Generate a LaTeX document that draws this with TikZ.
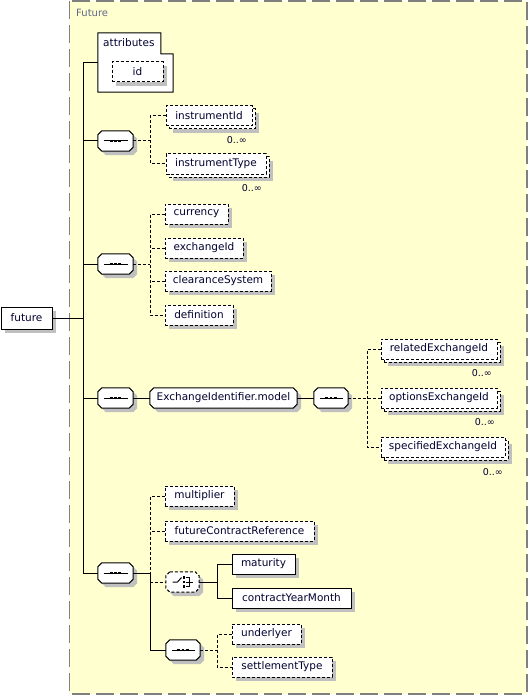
\documentclass[tikz,border=0pt]{standalone}
\usepackage{fontspec}
\newfontfamily\dvs{DejaVu Sans}
\definecolor{bgc}{RGB}{255,255,208}
\definecolor{framec}{RGB}{128,128,128}
\definecolor{shadowc}{RGB}{192,192,192}
\definecolor{txtc}{RGB}{0,0,48}
\definecolor{labc}{RGB}{96,104,136}
\begin{document}
\begin{tikzpicture}[x=1pt,y=-1pt,
  every node/.style={font=\dvs\fontsize{10.5}{12}\selectfont, text=txtc},
  conn/.style={line width=1pt, draw=black},
  optconn/.style={conn, dash pattern=on 3pt off 2pt},
  elem/.style={draw=black, fill=white, line width=1pt, inner sep=0pt, minimum height=20pt},
  optel/.style={elem, dash pattern=on 3pt off 2pt},
  shad/.style={preaction={fill=shadowc, draw=none, transform canvas={shift={(4pt,-4pt)}}}},
  multi/.style={preaction={fill=shadowc, draw=none, transform canvas={shift={(7pt,-7pt)}}},
                preaction={fill=white, draw=black, line width=1pt, dash pattern=on 3pt off 2pt, transform canvas={shift={(3pt,-3pt)}}}},
  hold/.style={inner sep=0pt, minimum height=20pt},
  octo/.style={insert path={([xshift=4pt]#1.north west) -- ([xshift=-4pt]#1.north east) -- ([yshift=-4pt]#1.north east) -- ([yshift=4pt]#1.south east) -- ([xshift=-4pt]#1.south east) -- ([xshift=4pt]#1.south west) -- ([yshift=4pt]#1.south west) -- ([yshift=-4pt]#1.north west) -- cycle}},
  mult/.style={font=\dvs\fontsize{9.5}{11}\selectfont, inner sep=0pt, anchor=east}
]
\useasboundingbox (0,0) rectangle (528,695);
% frame
\draw[framec, line width=1.5pt, dash pattern=on 18pt off 6pt, fill=bgc] (69.5,0.8) rectangle (526.8,693.9);
\node[anchor=west, inner sep=0pt, text=labc, font=\dvs\fontsize{10}{12}\selectfont] (title) at (76,13) {Future};

\coordinate (trunk) at (83,0);

% root
\node[elem, shad, minimum width=51pt, minimum height=22pt] (future) at (26.5,318) {future};

% attributes
\node[inner sep=0pt, minimum width=75pt, minimum height=59pt] (attr) at (135.5,62.5) {};
\draw[line width=1pt, fill=white] (attr.north west) -- ++(63,0) -- ++(0,21) -- (attr.east |- 0,54) -- (attr.south east) -- (attr.south west) -- cycle;
\node[anchor=west, inner sep=0pt] (attrlab) at (103,43) {attributes};
\node[optel, shad, minimum width=51pt] (id) at (137.5,72) {id};

% sequence 1
\node[hold, minimum width=35pt] (seq1) at (115.5,141) {};
\coordinate (j1) at (150,141);
\node[optel, multi, minimum width=86pt] (iid) at (209,116) {instrumentId};
\node[optel, multi, minimum width=100pt] (itype) at (216,164) {instrumentType};
\node[mult] (m1) at (247,140) {0..∞};
\node[mult] (m2) at (262,188) {0..∞};

% sequence 2
\node[hold, minimum width=35pt] (seq2) at (115.5,264) {};
\coordinate (j2) at (150,264);
\node[optel, shad, minimum width=63pt] (cur) at (196.5,214) {currency};
\node[optel, shad, minimum width=78pt] (exid) at (204,248) {exchangeId};
\node[optel, shad, minimum width=106pt] (clr) at (218,281) {clearanceSystem};
\node[optel, shad, minimum width=68pt] (def) at (199,315) {definition};

% sequence 3
\node[hold, minimum width=35pt] (seq3) at (115.5,398) {};
\node[hold, minimum width=147pt] (eim) at (223.5,398) {};
\node[hold, minimum width=34pt] (seq4) at (331,398) {};
\coordinate (j4) at (367,398);
\node[optel, multi, minimum width=116pt] (rel) at (439,349) {relatedExchangeId};
\node[optel, multi, minimum width=116pt] (opt) at (439,398) {optionsExchangeId};
\node[optel, multi, minimum width=124pt] (spec) at (443,447) {specifiedExchangeId};
\node[mult] (m3) at (492,373) {0..∞};
\node[mult] (m4) at (495,422) {0..∞};
\node[mult] (m5) at (503,472) {0..∞};

% sequence 5
\node[hold, minimum width=35pt] (seq5) at (115.5,573) {};
\coordinate (j5) at (150,573);
\node[optel, shad, minimum width=69pt] (mul) at (199.5,496) {multiplier};
\node[optel, shad, minimum width=149pt] (fcr) at (239.5,531) {futureContractReference};
\node[hold, minimum width=33pt] (choice) at (182.5,582) {};
\coordinate (j6) at (217,582);
\node[elem, shad, minimum width=63pt] (mat) at (263.5,564) {maturity};
\node[elem, shad, minimum width=119pt] (cym) at (291.5,598) {contractYearMonth};
\node[hold, minimum width=34pt] (seq6) at (183,650) {};
\coordinate (j7) at (217,650);
\node[optel, shad, minimum width=69pt] (und) at (266.5,634) {underlyer};
\node[optel, shad, minimum width=100pt] (stl) at (282,667) {settlementType};

% octagon compositors
\foreach \s in {seq1,seq2,seq3,seq4,seq5,seq6,eim,choice}{
  \fill[shadowc, transform canvas={shift={(4pt,-4pt)}}] [octo=\s];
}
\foreach \s in {seq1,seq2,seq3,seq4,seq5,seq6}{
  \draw[line width=1pt, fill=white] [octo=\s];
  \draw[line width=1pt] ([xshift=6pt]\s.west) -- ([xshift=-5pt]\s.east);
  \foreach \dx in {-4.3,0,4.3}{
    \fill ([xshift=\dx pt]\s.center) +(-1.4pt,-1.4pt) rectangle +(1.4pt,1.4pt);}
}
\draw[line width=1pt, fill=white] [octo=eim];
\node[inner sep=0pt] (eimlab) at (eim.center) {ExchangeIdentifier.model};
\draw[line width=1pt, fill=white, dash pattern=on 3pt off 2pt] [octo=choice];
% choice symbol
\draw[line width=1pt] ([xshift=-10pt]choice.center) -- ([xshift=-5pt]choice.center) -- ([xshift=-1pt,yshift=4.5pt]choice.center);
\foreach \dy in {-4.5,0,4.5}{
  \fill ([xshift=1.5pt,yshift=\dy pt]choice.center) +(-1.4pt,-1.4pt) rectangle +(1.4pt,1.4pt);}
\draw[line width=1pt] ([xshift=3pt,yshift=4.5pt]choice.center) -- ([xshift=7pt,yshift=4.5pt]choice.center)
      -- ([xshift=7pt,yshift=-4.5pt]choice.center) -- ([xshift=3pt,yshift=-4.5pt]choice.center);
\draw[line width=1pt] ([xshift=3pt]choice.center) -- ([xshift=10pt]choice.center);

% trunk connectors
\draw[conn] (attr.west -| trunk) -- (seq5.west -| trunk);
\draw[conn] (future.east) -- (future.east -| trunk);
\draw[conn] (attr.west -| trunk) -- (attr.west);
\foreach \s in {seq1,seq2,seq3,seq5}{\draw[conn] (\s.west -| trunk) -- (\s.west);}

% seq1 children
\draw[optconn] (seq1.east) -- (j1);
\draw[optconn] (iid.west) -- (iid.west -| j1) -- (itype.west -| j1) -- (itype.west);

% seq2 children
\draw[optconn] (seq2.east) -- (j2);
\draw[optconn] (cur.west) -- (cur.west -| j2) -- (def.west -| j2) -- (def.west);
\draw[optconn] (exid.west) -- (exid.west -| j2);
\draw[optconn] (clr.west) -- (clr.west -| j2);

% seq3 chain
\draw[conn] (seq3.east) -- (eim.west);
\draw[conn] (eim.east) -- (seq4.west);
\draw[optconn] (seq4.east) -- (j4);
\draw[optconn] (rel.west) -- (rel.west -| j4) -- (spec.west -| j4) -- (spec.west);
\draw[optconn] (opt.west) -- (opt.west -| j4);

% seq5 children
\draw[optconn] (mul.west) -- (mul.west -| j5) -- (choice.west -| j5) -- (choice.west);
\draw[optconn] (fcr.west) -- (fcr.west -| j5);
\draw[conn] (seq5.east) -- (j5) -- (seq6.west -| j5) -- (seq6.west);
\draw[conn] (choice.east) -- (j6);
\draw[conn] (mat.west) -- (mat.west -| j6) -- (cym.west -| j6) -- (cym.west);
\draw[optconn] (seq6.east) -- (j7);
\draw[optconn] (und.west) -- (und.west -| j7) -- (stl.west -| j7) -- (stl.west);
\end{tikzpicture}
\end{document}
